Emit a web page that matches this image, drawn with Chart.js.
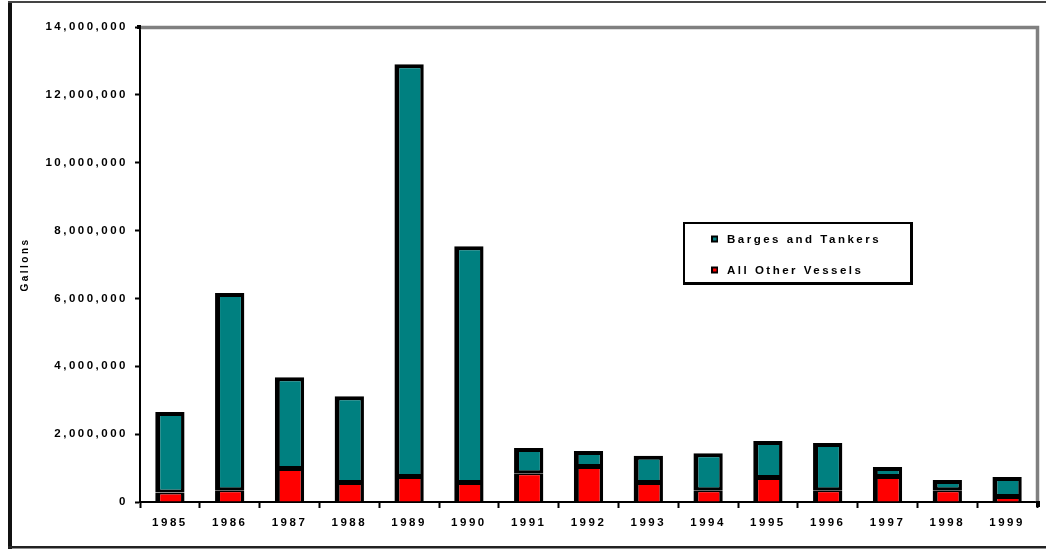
<!DOCTYPE html>
<html>
<head>
<meta charset="utf-8">
<script src="https://cdn.jsdelivr.net/npm/chart.js@4"></script>
<style>
  html, body { margin: 0; padding: 0; background: #fff; overflow: hidden; }
  #wrap { position: relative; width: 1046px; height: 550px; }
</style>
</head>
<body>
<div id="wrap"><canvas id="c" width="1046" height="550"></canvas></div>
<script>
// Oil spilled by vessel type, gallons per year
const years = ['1985', '1986', '1987', '1988', '1989', '1990', '1991', '1992',
               '1993', '1994', '1995', '1996', '1997', '1998', '1999'];
const bargesAndTankers = [2370000, 5810000, 2710000, 2560000, 12160000, 6980000, 740000, 470000,
                          800000, 1090000, 1090000, 1390000, 290000, 300000, 590000];
const allOtherVessels = [280000, 350000, 970000, 560000, 740000, 560000, 850000, 1030000,
                         560000, 350000, 710000, 350000, 740000, 350000, 150000];
const yTicks = [0, 2000000, 4000000, 6000000, 8000000, 10000000, 12000000, 14000000];
const seriesNames = ['All Other Vessels', 'Barges and Tankers'];
const seriesColors = ['#ff0000', '#008080'];

const FONT = '"Liberation Sans", Arial, Helvetica, sans-serif';
const SPACING = '2.5px';

// wide-tracked lettering for every text drawn on the canvas
const tracking = {
  id: 'tracking',
  beforeUpdate(chart) { chart.ctx.letterSpacing = SPACING; },
  beforeLayout(chart) { chart.ctx.letterSpacing = SPACING; },
  beforeDraw(chart) { chart.ctx.letterSpacing = SPACING; }
};

// outer frame and the grey top/right edges of the plot area
const frame = {
  id: 'frame',
  beforeDraw(chart) {
    const ctx = chart.ctx;
    ctx.save();
    ctx.fillStyle = '#fff';
    ctx.fillRect(0, 0, chart.width, chart.height);
    ctx.restore();
  },
  afterDraw(chart) {
    const { ctx, chartArea: a } = chart;
    ctx.save();
    ctx.strokeStyle = '#808080';
    ctx.lineWidth = 3.5;
    ctx.beginPath();
    ctx.moveTo(a.left, a.top + 0.5);
    ctx.lineTo(a.right + 0.5, a.top + 0.5);
    ctx.lineTo(a.right + 0.5, a.bottom);
    ctx.stroke();
    ctx.fillStyle = '#000';
    ctx.fillRect(a.left - 3, a.top - 2, 4, 4);
    ctx.fillRect(a.right - 1, a.bottom - 1, 4, 6);
    // page frame
    ctx.fillStyle = '#111';
    ctx.fillRect(8, 1, 4, 548);
    ctx.fillStyle = '#444';
    ctx.fillRect(8, 1, chart.width, 2);
    ctx.fillStyle = '#222';
    ctx.fillRect(8, 546, chart.width, 2.5);
    ctx.restore();
  }
};

// boxed legend inside the plot, top series first
const boxLegend = {
  id: 'boxLegend',
  afterDraw(chart) {
    const ctx = chart.ctx;
    const x = 683, y = 222, w = 230, h = 63;
    ctx.save();
    ctx.fillStyle = '#000';
    ctx.fillRect(x, y, w, h);
    ctx.fillStyle = '#fff';
    ctx.fillRect(x + 2, y + 2, w - 5, h - 5);
    ctx.font = 'bold 11.5px ' + FONT;
    ctx.textBaseline = 'middle';
    ctx.textAlign = 'left';
    ctx.letterSpacing = SPACING;
    const items = chart.data.datasets.slice().reverse();
    items.forEach((ds, i) => {
      const cy = y + 17 + i * 31;
      ctx.fillStyle = '#000';
      ctx.fillRect(711, cy - 3.5, 7, 7);
      ctx.fillStyle = ds.backgroundColor;
      ctx.fillRect(713, cy - 1.5, 3.5, 3);
      ctx.fillStyle = '#000';
      ctx.fillText(ds.label, 727, cy + 0.5);
    });
    ctx.restore();
  }
};

const tickFont = { family: FONT, size: 11.5, weight: 'bold' };

new Chart(document.getElementById('c'), {
  type: 'bar',
  data: {
    labels: years,
    datasets: [
      {
        label: seriesNames[0],
        data: allOtherVessels,
        backgroundColor: seriesColors[0],
        borderColor: '#000',
        borderWidth: { left: 5, right: 3.5, top: 2, bottom: 0 },
        borderSkipped: false
      },
      {
        label: seriesNames[1],
        data: bargesAndTankers,
        backgroundColor: seriesColors[1],
        borderColor: '#000',
        borderWidth: { left: 5, right: 3.5, top: 4, bottom: 3 },
        borderSkipped: false
      }
    ]
  },
  options: {
    responsive: false,
    animation: false,
    devicePixelRatio: 1,
    barPercentage: 0.49,
    categoryPercentage: 1,
    layout: { padding: { left: 0, top: 27, right: 9, bottom: 0 } },
    plugins: { legend: { display: false }, tooltip: { enabled: false } },
    scales: {
      x: {
        stacked: true,
        grid: { display: true, drawOnChartArea: false, offset: true, tickLength: 6, tickWidth: 2, tickColor: '#000' },
        border: { display: true, color: '#000', width: 2 },
        ticks: { color: '#000', font: tickFont, padding: 8, maxRotation: 0, autoSkip: false },
        afterFit(s) { s.height = 48; }
      },
      y: {
        stacked: true,
        min: 0,
        max: 14000000,
        afterBuildTicks(s) { s.ticks = yTicks.map(v => ({ value: v })); },
        grid: { drawOnChartArea: false, tickLength: 5, tickWidth: 2, tickColor: '#000' },
        border: { display: true, color: '#000', width: 2 },
        ticks: { color: '#000', font: tickFont, padding: 7, callback: v => v.toLocaleString('en-US') },
        title: {
          display: true, text: 'Gallons', color: '#000',
          font: { family: FONT, size: 10, weight: 'bold' },
          padding: { top: 19, bottom: 0 }
        },
        afterFit(s) { s.width = 140; }
      }
    }
  },
  plugins: [tracking, frame, boxLegend]
});
</script>
</body>
</html>
